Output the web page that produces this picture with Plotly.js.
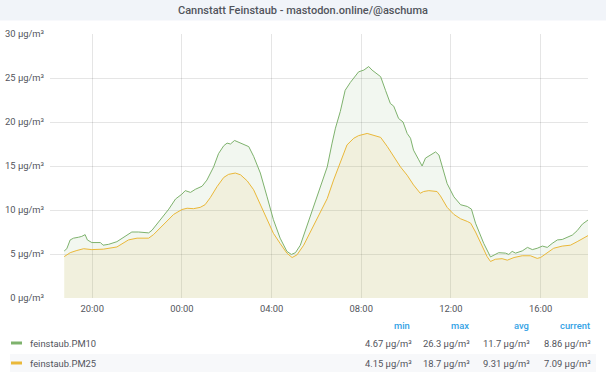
<!DOCTYPE html>
<html>
<head>
<meta charset="utf-8">
<script src="https://cdn.plot.ly/plotly-3.0.1.min.js"></script>
<style>
html,body{margin:0;padding:0;background:#fff;}
#chart{width:606px;height:379px;}
</style>
</head>
<body>
<div id="chart"></div>
<script>
// ---- data (hours since midnight of day 1) ----
const pm10Hours = [18.75,18.87,19.02,19.17,19.39,19.54,19.69,19.79,19.99,20.36,20.48,20.73,21.10,21.40,21.77,22.07,22.51,22.67,23.04,23.41,23.71,24.0,24.15,24.38,24.6,24.9,25.12,25.42,25.64,25.86,26.01,26.16,26.35,26.53,26.75,26.98,27.20,27.5,27.80,28.09,28.39,28.69,28.88,29.06,29.29,29.51,29.88,30.18,30.48,30.70,30.85,31.07,31.29,31.52,31.66,31.89,32.11,32.33,32.49,32.71,32.86,33.08,33.30,33.45,33.67,33.87,34.05,34.20,34.34,34.57,34.72,34.87,35.09,35.31,35.46,35.61,35.83,36.13,36.43,36.73,36.91,37.10,37.47,37.77,37.92,38.14,38.44,38.58,38.74,38.88,39.18,39.41,39.63,39.85,40.08,40.30,40.52,40.75,40.97,41.19,41.41,41.64,41.86,42.11];
const pm10Values = [5.34,5.6,6.6,6.8,6.9,7.0,7.2,6.6,6.3,6.3,6.0,6.1,6.4,6.9,7.5,7.5,7.4,7.7,8.9,10.1,11.25,11.8,12.2,12.0,12.35,12.7,13.4,14.9,16.4,17.3,17.6,17.5,17.9,17.7,17.5,17.2,16.1,14.2,11.5,8.9,6.8,5.3,4.95,5.15,6.0,7.7,10.4,12.6,14.9,17.6,19.3,21.2,23.6,24.5,25.0,25.7,25.9,26.3,25.9,25.45,25.15,23.6,22.1,21.8,20.4,20.0,18.7,18.15,16.8,15.7,15.0,15.9,16.25,16.6,16.25,14.9,13.0,11.5,10.6,10.4,10.1,8.5,6.2,4.67,4.9,5.15,5.1,4.95,5.3,5.1,5.35,5.75,5.5,5.65,5.9,5.75,6.2,6.6,6.65,6.9,7.15,7.65,8.4,8.86];
const pm25Hours = [18.75,19.02,19.32,19.61,19.99,20.50,21.10,21.62,22.0,22.51,22.74,23.18,23.63,24.0,24.23,24.52,24.82,25.04,25.27,25.57,25.86,26.08,26.38,26.61,26.91,27.20,27.5,27.80,28.09,28.39,28.69,28.91,29.14,29.43,29.73,30.03,30.48,30.77,31.07,31.37,31.66,31.89,32.26,32.56,32.86,33.16,33.45,33.75,34.05,34.34,34.64,34.79,35.01,35.39,35.54,35.83,36.13,36.43,36.73,36.88,37.10,37.40,37.62,37.77,37.99,38.29,38.51,38.81,39.18,39.55,39.85,40.0,40.30,40.59,40.97,41.34,41.64,42.11];
const pm25Values = [4.7,5.15,5.4,5.6,5.5,5.55,5.8,6.6,6.8,6.8,7.2,8.3,9.5,10.05,10.2,10.15,10.3,10.6,11.4,12.65,13.7,14.05,14.2,14.0,13.3,12.3,10.6,8.9,7.35,6.2,5.1,4.6,4.9,6.0,7.5,8.9,11.3,13.4,15.5,17.4,18.15,18.45,18.7,18.5,18.25,17.2,16.05,14.9,13.95,12.85,11.9,12.1,12.2,12.1,11.6,10.3,9.5,9.0,8.7,8.5,7.5,5.8,4.7,4.15,4.4,4.47,4.3,4.6,4.8,4.8,4.5,4.6,5.1,5.65,5.9,6.0,6.4,7.09];

const seriesNames = ['feinstaub.PM10','feinstaub.PM25'];
const statHeaders = ['min','max','avg','current'];
const statMin = ['4.67 µg/m³','4.15 µg/m³'];
const statMax = ['26.3 µg/m³','18.7 µg/m³'];
const statAvg = ['11.7 µg/m³','9.31 µg/m³'];
const statCur = ['8.86 µg/m³','7.09 µg/m³'];
const yTicks = [0,5,10,15,20,25,30];
const xRangeHours = [18.12, 42.12];
const titleText = 'Cannstatt Feinstaub - mastodon.online/@aschuma';

// ---- helpers ----
function pad(n){return (n<10?'0':'')+n;}
function hoursToStr(h){
  const totalMin = Math.round(h*60);
  const day = Math.floor(totalMin/1440);
  const rem = totalMin - day*1440;
  const hh = Math.floor(rem/60), mm = rem%60;
  return '2023-01-'+pad(1+day)+' '+pad(hh)+':'+pad(mm)+':00';
}

const W=606,H=379, L=50,R=18,T=34,B=81;
const pw=W-L-R, ph=H-T-B;
const px = x => (x-L)/pw;
const py = y => (H-B-y)/ph;

const green='#7eb26d', yellow='#eab839';
const textCol='#52545c';
const fs=9.4;

const traces = [
  {x: pm10Hours.map(hoursToStr), y: pm10Values, name: seriesNames[0], type:'scatter', mode:'lines',
   line:{color:green,width:1}, fill:'tozeroy', fillcolor:'rgba(126,178,109,0.1)', hoverinfo:'skip'},
  {x: pm25Hours.map(hoursToStr), y: pm25Values, name: seriesNames[1], type:'scatter', mode:'lines',
   line:{color:yellow,width:1}, fill:'tozeroy', fillcolor:'rgba(234,184,57,0.1)', hoverinfo:'skip'}
];

const shapes = [
  {type:'rect', xref:'paper', yref:'paper', x0:px(0), x1:px(W), y0:py(0), y1:py(20.5), fillcolor:'#f1f4f9', line:{width:0}, layer:'below'},
  {type:'rect', xref:'paper', yref:'paper', x0:px(10), x1:px(596), y0:py(354), y1:py(372), fillcolor:'#f7f8fa', line:{width:0}, layer:'below'}
];
const legendColors=[green,yellow];
const rowY=[343,363];
const annotations=[];
const statCols=[statMin,statMax,statAvg,statCur];
const headerX=[402,460,521,575];
const valueRight=[414,472,532,593];
statHeaders.forEach((h,i)=>{
  annotations.push({xref:'paper',yref:'paper',x:px(headerX[i]),y:py(325.5),text:h,showarrow:false,
    xanchor:'center',yanchor:'middle',font:{family:'Roboto',size:fs,color:'#33a2e5',weight:500}});
});
seriesNames.forEach((n,r)=>{
  shapes.push({type:'line',xref:'paper',yref:'paper',x0:px(11),x1:px(22),y0:py(rowY[r]),y1:py(rowY[r]),
    line:{color:legendColors[r],width:3}});
  annotations.push({xref:'paper',yref:'paper',x:px(28),y:py(rowY[r]),text:n,showarrow:false,
    xanchor:'left',yanchor:'middle',font:{family:'Roboto',size:fs,color:textCol}});
  statCols.forEach((col,c)=>{
    annotations.push({xref:'paper',yref:'paper',x:px(valueRight[c]),y:py(rowY[r]),text:col[r],showarrow:false,
      xanchor:'right',yanchor:'middle',font:{family:'Roboto',size:fs,color:textCol}});
  });
});

const layout = {
  width:W, height:H,
  margin:{l:L,r:R,t:T,b:B,pad:0},
  paper_bgcolor:'#ffffff', plot_bgcolor:'#ffffff',
  showlegend:false,
  font:{family:'Roboto', size:fs, color:textCol},
  title:{text:titleText, x:0.5, xref:'container', xanchor:'center', y:1-10.5/H, yref:'container', yanchor:'middle',
    font:{family:'Roboto', size:11, color:textCol, weight:500}},
  xaxis:{type:'date', range:[hoursToStr(xRangeHours[0]), hoursToStr(xRangeHours[1])],
    tickformat:'%H:%M', dtick:4*3600*1000, tick0:'2023-01-01 20:00:00',
    showgrid:true, gridcolor:'rgba(0,0,0,0.1)', gridwidth:1, zeroline:false, showline:false,
    ticks:'', ticklabelstandoff:4, tickfont:{family:'Roboto',size:fs,color:textCol}},
  yaxis:{range:[0,30], tickvals:yTicks, ticktext:yTicks.map(v=>v+' µg/m³'),
    showgrid:true, gridcolor:'rgba(0,0,0,0.1)', gridwidth:1, zeroline:false, showline:false,
    ticks:'', ticklabelstandoff:5, tickfont:{family:'Roboto',size:fs,color:textCol}},
  shapes:shapes,
  annotations:annotations
};
Plotly.newPlot('chart', traces, layout, {displayModeBar:false, staticPlot:true});
</script>
</body>
</html>
